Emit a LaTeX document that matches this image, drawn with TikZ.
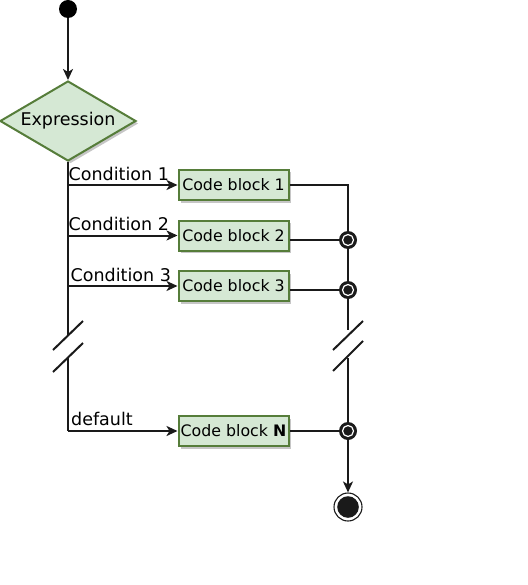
\documentclass[tikz,border=0pt]{standalone}
\usepackage{fontspec}
\setmainfont{DejaVu Sans}
\usetikzlibrary{shapes.geometric,shadows,arrows.meta}
\definecolor{gfill}{HTML}{D5E8D4}
\definecolor{gdraw}{HTML}{567D3A}
\definecolor{ln}{HTML}{1A1A1A}
\begin{document}
\begin{tikzpicture}[x=1pt,y=-1pt,
  conn/.style={draw=ln, line width=2pt},
  thin conn/.style={draw=ln, line width=1.3pt},
  arr/.style={conn, -{Stealth[length=11pt,width=10pt,inset=3pt]}},
  gshadow/.style={drop shadow={shadow xshift=2.5pt, shadow yshift=-2.5pt, fill=gray!45, opacity=1}},
  codebox/.style={rectangle, draw=gdraw, fill=gfill, line width=2pt, minimum width=110pt, minimum height=30pt, inner sep=0pt, font=\fontsize{15.8}{18}\selectfont, gshadow},
  decision/.style={diamond, draw=gdraw, fill=gfill, line width=2pt, aspect=1.7, minimum width=136pt, minimum height=80pt, inner sep=0pt, font=\fontsize{17.5}{20}\selectfont, gshadow},
  lbl/.style={anchor=base west, inner sep=0pt, font=\fontsize{17.5}{20}\selectfont},
  startdot/.style={circle, fill=black, minimum size=18pt, inner sep=0pt},
  merge/.style={circle, fill=ln, minimum size=18pt, inner sep=0pt,
     path picture={\draw[white, line width=1.2pt] (path picture bounding box.center) circle (5.5pt);}},
  enddot/.style={circle, draw=ln, line width=1.1pt, fill=white, minimum size=28pt, inner sep=0pt,
     path picture={\fill[ln] (path picture bounding box.center) circle (10.8pt);}}
]
\useasboundingbox (0,0) rectangle (527,585);

% nodes
\node[startdot] (start) at (68,9) {};
\node[decision] (expr) at (68,121) {Expression};
\node[codebox] (b1) at (233.5,185) {Code block 1};
\node[codebox] (b2) at (233.5,235.5) {Code block 2};
\node[codebox] (b3) at (233.5,286) {Code block 3};
\node[codebox] (bN) at (233.5,431) {Code block \textbf{N}};
\node[merge] (m2) at (348,240) {};
\node[merge] (m3) at (348,290) {};
\node[merge] (mN) at (348,431) {};
\node[enddot] (end) at (348,507) {};

% labels
\node[lbl] (l1) at (68.5,180.5) {Condition 1};
\node[lbl] (l2) at (68.5,230.5) {Condition 2};
\node[lbl] (l3) at (70.5,281) {Condition 3};
\node[lbl] (ld) at (71,425.5) {default};

% left spine
\coordinate (c1) at (68,185);
\coordinate (c2) at (68,235.5);
\coordinate (c3) at (68,286);
\coordinate (lbrk1) at (68,335);
\coordinate (lbrk2) at (68,357);
\coordinate (cd) at (68,431);

\draw[arr] (start) -- (expr.north);
\draw[conn] (expr.south) -- (lbrk1);
\draw[conn] (lbrk2) -- (cd);
\draw[arr] (c1) -- (b1.west);
\draw[arr] (c2) -- (b2.west);
\draw[arr] (c3) -- (b3.west);
\draw[arr] (cd) -- (bN.west);

% left break marks
\draw[conn] (53,350) -- (83,321);
\draw[conn] (53,372) -- (83,343);

% right side
\coordinate (r1) at (348,185);
\coordinate (rbrk1) at (348,330);
\coordinate (rbrk2) at (348,358);
\draw[thin conn] (b1.east) -- (r1) -- (m2);
\draw[conn] (b2.east |- m2) -- (m2);
\draw[conn] (b3.east |- m3) -- (m3);
\draw[conn] (bN.east) -- (mN);
\draw[thin conn] (m2) -- (m3);
\draw[thin conn] (m3) -- (rbrk1);
\draw[thin conn] (rbrk2) -- (mN);
\draw[conn] (333,350) -- (363,321);
\draw[conn] (333,371) -- (363,341);
\draw[arr] (mN) -- (end);
\end{tikzpicture}
\end{document}
